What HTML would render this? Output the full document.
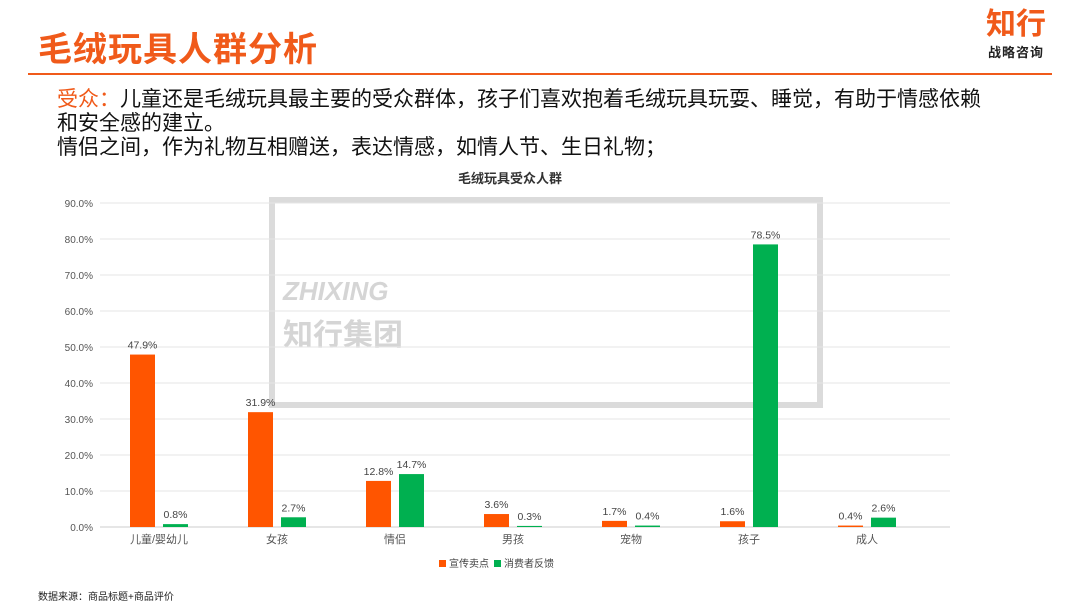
<!DOCTYPE html>
<html><head><meta charset="utf-8"><style>
body{margin:0;width:1080px;height:608px;background:#fff;font-family:"Liberation Sans","Noto Sans CJK SC",sans-serif;overflow:hidden;position:relative}
.abs{position:absolute}
</style></head><body>
<div class="abs" style="left:38px;top:22px;font-size:34px;font-weight:bold;color:#f05a1a;letter-spacing:1px">毛绒玩具人群分析</div>
<div class="abs" style="left:28px;top:73px;width:1024px;height:2px;background:#f05a1a"></div>
<div class="abs" style="left:986px;top:8px;text-align:center">
<div style="font-size:30px;font-weight:bold;color:#f05a1a;line-height:34px">知行</div>
<div style="font-size:13px;font-weight:bold;color:#222;letter-spacing:1px">战略咨询</div></div>
<div class="abs" style="left:57px;top:88px;font-size:21px;line-height:24px;color:#111;width:1000px">
<span style="color:#f05a1a">受众：</span>儿童还是毛绒玩具最主要的受众群体，孩子们喜欢抱着毛绒玩具玩耍、睡觉，有助于情感依赖<br>和安全感的建立。<br>情侣之间，作为礼物互相赠送，表达情感，如情人节、生日礼物；</div>
<div class="abs" style="left:38px;top:588px;font-size:10px;color:#222">数据来源：商品标题+商品评价</div>
<svg class="abs" style="left:0;top:0" width="1080" height="608">
<g id="wm" opacity="0.35">
<rect x="272" y="200" width="548" height="205" fill="none" stroke="#999" stroke-width="6"/>
<text x="283" y="300" font-size="26" font-weight="bold" font-style="italic" fill="#888">ZHIXING</text>
<text x="283" y="345" font-size="30" font-weight="bold" fill="#888">知行集团</text>
</g>
<text x="510" y="183" text-anchor="middle" font-size="13" font-weight="bold" fill="#333">毛绒玩具受众人群</text>
<g id="grid"></g><g id="bars"></g>
<g>
<rect x="439" y="560" width="7" height="7" fill="#ff5500"/><text x="449" y="567" font-size="10" fill="#444">宣传卖点</text>
<rect x="494" y="560" width="7" height="7" fill="#00b050"/><text x="504" y="567" font-size="10" fill="#444">消费者反馈</text>
</g>
</svg>
<script>
const categories=["儿童/婴幼儿","女孩","情侣","男孩","宠物","孩子","成人"];
const promo=[47.9,31.9,12.8,3.6,1.7,1.6,0.4];
const feedback=[0.8,2.7,14.7,0.3,0.4,78.5,2.6];
const ticks=[0,10,20,30,40,50,60,70,80,90];
const NS="http://www.w3.org/2000/svg";
const x0=100,band=118,y0=527,yTop=203;
const y=v=>y0-(v/90)*(y0-yTop);
function mk(t,a,p){const e=document.createElementNS(NS,t);for(const k in a)e.setAttribute(k,a[k]);p.appendChild(e);return e;}
const grid=document.getElementById('grid'),bars=document.getElementById('bars');
ticks.forEach(t=>{
 const l=mk('line',{x1:x0,x2:950,y1:y(t),y2:y(t),stroke:t===0?'#ccc':'#e6e6e6','stroke-width':1},grid);
 
 
 const tx=mk('text',{x:93,y:y(t)+4,'text-anchor':'end','font-size':10,fill:'#555'},grid);
 tx.textContent=t.toFixed(1)+'%';
 
 
});
categories.forEach((c,i)=>{
 const cx=x0+band*i+band/2;
 const lb=mk('text',{x:cx,y:y0+16,'text-anchor':'middle','font-size':11,fill:'#555'},bars);
 lb.textContent=c;
 
 
 [[promo[i],'#ff5500',-29],[feedback[i],'#00b050',4]].forEach(([v,col,off],j)=>{
  const r=mk('rect',{x:cx+off,y:y(v),width:25,height:y0-y(v),fill:col},bars);
  
  
  const t=mk('text',{x:cx+off+12.5,y:y(v)-6,'text-anchor':'middle','font-size':10.5,fill:'#444'},bars);
  t.textContent=v.toFixed(1)+'%';
  
  
 });
});
</script>
</body></html>
